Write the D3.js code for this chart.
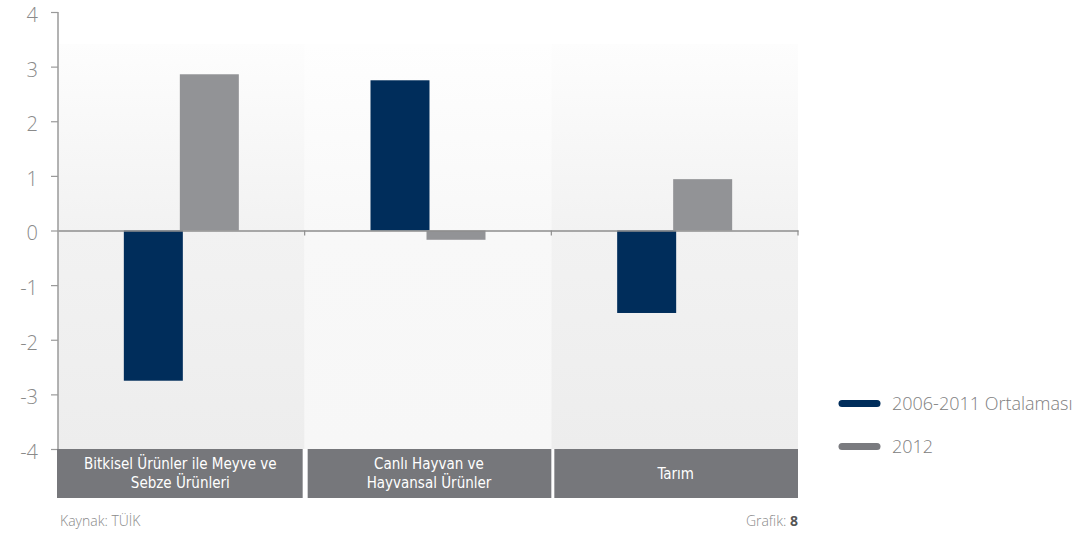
<!DOCTYPE html>
<html>
<head>
<meta charset="utf-8">
<script src="https://cdn.jsdelivr.net/npm/d3@7"></script>
<style>
  html, body { margin: 0; padding: 0; background: #ffffff; }
  svg { display: block; }
</style>
</head>
<body>
<svg id="chart" width="1081" height="535"></svg>
<script>
// Categories (two-line labels) and series
const categories = ["Bitkisel Ürünler ile Meyve ve Sebze Ürünleri", "Canlı Hayvan ve Hayvansal Ürünler", "Tarım"];
const categoryLines = [["Bitkisel Ürünler ile Meyve ve", "Sebze Ürünleri"], ["Canlı Hayvan ve", "Hayvansal Ürünler"], ["Tarım"]];
const seriesNames = ["2006-2011 Ortalaması", "2012"];
const avg2006_2011 = [-2.75, 2.75, -1.51];
const year2012 = [2.86, -0.17, 0.94];
const yTicks = [4, 3, 2, 1, 0, -1, -2, -3, -4];

const colors = { "2006-2011 Ortalaması": "#002d5b", "2012": "#929396" };
const legendColors = { "2006-2011 Ortalaması": "#002d5b", "2012": "#7a7b7f" };

const svg = d3.select("#chart");
const plotLeft = 58, plotRight = 798, plotTop = 12, plotBottom = 449;

const y = d3.scaleLinear().domain([-4, 4]).range([plotBottom, plotTop]);
const x0 = d3.scaleBand().domain(categories).range([plotLeft, plotRight]).paddingInner(0);
const x1 = d3.scalePoint().domain(seriesNames).range([-28, 28]);
const barW = 59;

// Panel backgrounds
const defs = svg.append("defs");
function grad(id, stops) {
  const g = defs.append("linearGradient").attr("id", id)
    .attr("x1", 0).attr("y1", 0).attr("x2", 0).attr("y2", 1);
  stops.forEach(s => g.append("stop").attr("offset", s[0]).attr("stop-color", s[1]));
}
grad("panelDark", [[0, "#fdfdfd"], [0.46, "#f2f2f2"], [1, "#ededed"]]);
grad("panelLight", [[0, "#fefefe"], [0.46, "#f8f8f8"], [1, "#f7f7f7"]]);

const panelTop = 44;
svg.append("g").selectAll("rect").data(categories).join("rect")
  .attr("x", d => x0(d))
  .attr("y", panelTop)
  .attr("width", x0.bandwidth())
  .attr("height", y(-4) - panelTop)
  .attr("fill", (d, i) => i === 1 ? "url(#panelLight)" : "url(#panelDark)");

// Bars
const rows = categories.map((c, i) => ({ cat: c, values: [
  { key: seriesNames[0], value: avg2006_2011[i] },
  { key: seriesNames[1], value: year2012[i] }
]}));

const groups = svg.append("g").selectAll("g").data(rows).join("g")
  .attr("transform", d => `translate(${x0(d.cat) + x0.bandwidth() / 2},0)`);
groups.selectAll("rect").data(d => d.values).join("rect")
  .attr("x", d => x1(d.key) - barW / 2)
  .attr("y", d => y(Math.max(0, d.value)))
  .attr("width", barW)
  .attr("height", d => Math.abs(y(d.value) - y(0)))
  .attr("fill", d => colors[d.key]);

// Y axis
const yAxis = d3.axisLeft(y).tickValues(yTicks).tickSize(7).tickPadding(13).tickFormat(d3.format("d"));
const ya = svg.append("g").attr("transform", `translate(${plotLeft},0)`).call(yAxis);
ya.select(".domain").attr("stroke", "#9a9a9a").attr("stroke-width", 1.5).attr("d", `M0,${y(4)}V${y(-4)}`);
ya.selectAll(".tick line").attr("stroke", "#9a9a9a").attr("stroke-width", 1.2);
ya.selectAll(".tick text")
  .attr("fill", "#8a8a8a")
  .attr("y", 3)
  .style("font-family", "'Open Sans', sans-serif")
  .style("font-weight", 300)
  .style("font-size", "20px")
  .text(d => d < 0 ? "-" + Math.abs(d) : d);

// Zero line with category separators
const xAxis = d3.axisBottom(x0).tickValues([]).tickSizeOuter(0);
const xa = svg.append("g").attr("transform", `translate(0,${y(0)})`).call(xAxis);
xa.select(".domain").attr("stroke", "#8e8e8e").attr("stroke-width", 1.5);
const seps = categories.map(c => x0(c) + x0.bandwidth());
svg.append("g").selectAll("line").data(seps).join("line")
  .attr("x1", d => d).attr("x2", d => d)
  .attr("y1", y(0)).attr("y2", y(0) + 5)
  .attr("stroke", "#8e8e8e").attr("stroke-width", 1.2);

// Category label boxes
const boxTop = 449, boxBottom = 498;
const boxes = svg.append("g").selectAll("g").data(categories).join("g");
boxes.append("rect")
  .attr("x", (d, i) => x0(d) + (i === 0 ? -1 : 3))
  .attr("y", boxTop)
  .attr("width", (d, i) => x0.bandwidth() - (i === 0 ? 1 : 3))
  .attr("height", boxBottom - boxTop)
  .attr("fill", "#76777b");
boxes.each(function (d, i) {
  const lines = categoryLines[i];
  const cx = x0(d) + x0.bandwidth() / 2 + (i === 0 ? -1 : 1);
  const mid = (boxTop + boxBottom) / 2;
  const lh = 19;
  const t = d3.select(this).append("text")
    .attr("text-anchor", "middle")
    .attr("fill", "#ffffff")
    .style("font-family", "'DejaVu Sans Condensed', 'DejaVu Sans', sans-serif")
    .style("font-stretch", "condensed")
    .style("font-size", "15px");
  lines.forEach((ln, k) => {
    t.append("tspan")
      .attr("x", cx)
      .attr("y", mid + (k - (lines.length - 1) / 2) * lh + 5)
      .text(ln);
  });
});

// Legend
const legend = svg.append("g");
seriesNames.forEach((s, i) => {
  const ly = 403.5 + i * 43;
  legend.append("line")
    .attr("x1", 842).attr("x2", 877)
    .attr("y1", ly).attr("y2", ly)
    .attr("stroke", legendColors[s]).attr("stroke-width", 7)
    .attr("stroke-linecap", "round");
  legend.append("text")
    .attr("x", 892).attr("y", ly + 6.5)
    .attr("fill", "#808080")
    .style("font-family", "'Open Sans', sans-serif")
    .style("font-weight", 300)
    .style("font-size", "18px")
    .text(s);
});

// Footer
svg.append("text")
  .attr("x", 60).attr("y", 526)
  .attr("fill", "#8a8a8a")
  .style("font-family", "'Open Sans', sans-serif")
  .style("font-weight", 300)
  .style("font-size", "14px")
  .text("Kaynak: TÜİK");
const gf = svg.append("text")
  .attr("x", 798).attr("y", 526)
  .attr("text-anchor", "end")
  .attr("fill", "#8a8a8a")
  .style("font-family", "'Open Sans', sans-serif")
  .style("font-weight", 300)
  .style("font-size", "14px");
gf.append("tspan").text("Grafik: ");
gf.append("tspan").attr("fill", "#555").style("font-weight", 700).text("8");
</script>
</body>
</html>
